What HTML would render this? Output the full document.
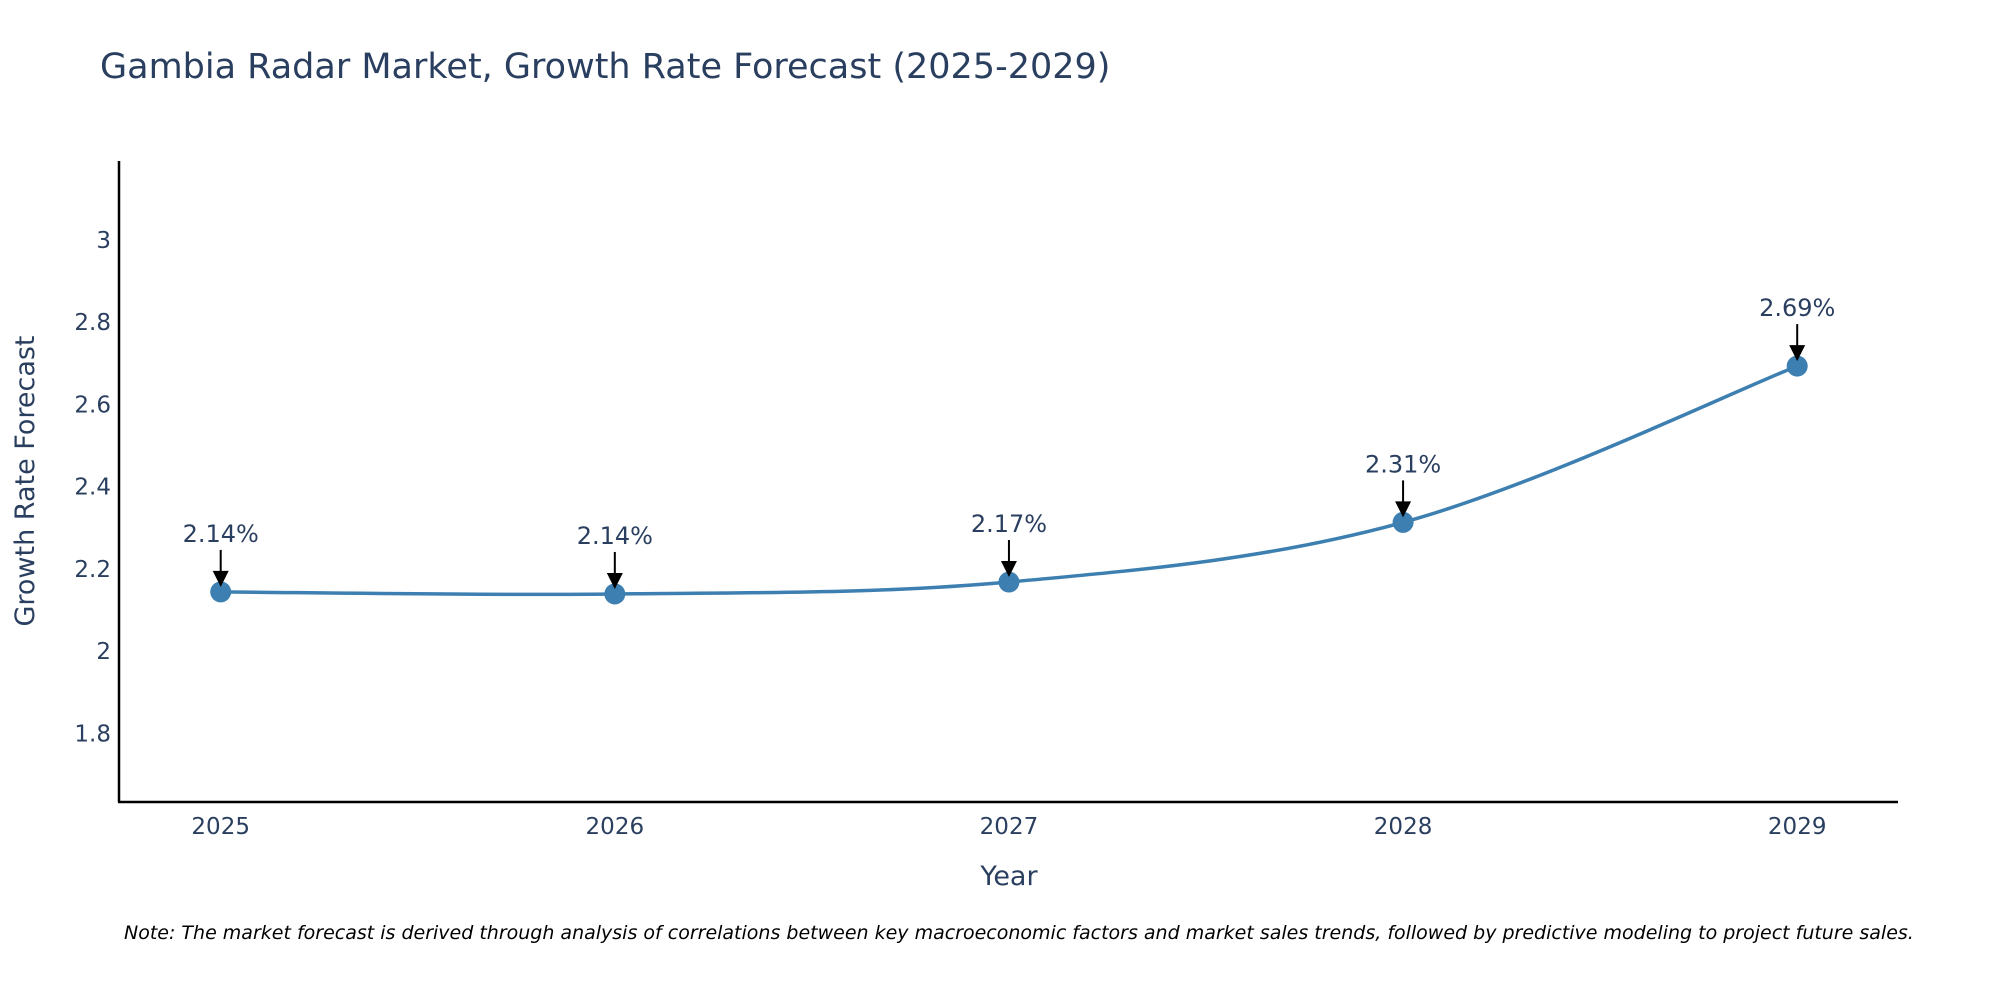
<!DOCTYPE html>
<html><head><meta charset="utf-8">
<style>
html,body{margin:0;padding:0;background:#fff;}
svg{display:block;font-family:"DejaVu Sans","Liberation Sans",sans-serif;}
</style></head>
<body>
<svg id="chart" width="2000" height="1000" viewBox="0 0 2000 1000">
<text x="100" y="78" font-size="35" fill="#2a3f5f">Gambia Radar Market, Growth Rate Forecast (2025-2029)</text>
<g id="yticks"></g>
<g id="xticks"></g>
<line x1="119" y1="161" x2="119" y2="802" stroke="#000" stroke-width="2.5"/>
<line x1="118" y1="802" x2="1898" y2="802" stroke="#000" stroke-width="2.5"/>
<text transform="translate(34,481) rotate(-90)" text-anchor="middle" font-size="27" fill="#2a3f5f">Growth Rate Forecast</text>
<text x="1009" y="885" text-anchor="middle" font-size="27" fill="#2a3f5f">Year</text>
<g id="series"></g>
<text x="124" y="939" font-size="19" font-style="italic" fill="#000">Note: The market forecast is derived through analysis of correlations between key macroeconomic factors and market sales trends, followed by predictive modeling to project future sales.</text>
</svg>
<script>
const years = [2025, 2026, 2027, 2028, 2029];
const values = [2.144, 2.139, 2.168, 2.313, 2.693];
const labels = ["2.14%", "2.14%", "2.17%", "2.31%", "2.69%"];
const yTickValues = [1.8, 2, 2.2, 2.4, 2.6, 2.8, 3];
const yTickLabels = ["1.8", "2", "2.2", "2.4", "2.6", "2.8", "3"];

const NS = "http://www.w3.org/2000/svg";
function xScale(v){ return 220.7 + (v - 2025) * (1797.2 - 220.7) / 4; }
function yScale(v){ return 239.8 + (3 - v) * (733.4 - 239.8) / 1.2; }
function mk(tag, attrs, parent){ const e = document.createElementNS(NS, tag); for (const k in attrs) e.setAttribute(k, attrs[k]); parent.appendChild(e); return e; }

const yt = document.getElementById("yticks");
yTickValues.forEach((v, i) => {
  const t = mk("text", {x: 111, y: yScale(v) + 8, "text-anchor": "end", "font-size": 23, fill: "#2a3f5f"}, yt);
  
  
  t.textContent = yTickLabels[i];
});
const xt = document.getElementById("xticks");
years.forEach(y => {
  const t = mk("text", {x: xScale(y), y: 834, "text-anchor": "middle", "font-size": 23, fill: "#2a3f5f"}, xt);
  
  
  t.textContent = String(y);
});

const g = document.getElementById("series");
const pts = years.map((y, i) => [xScale(y), yScale(values[i])]);
let d = "M" + pts[0][0] + "," + pts[0][1];
const s = 0.17;
for (let i = 0; i < pts.length - 1; i++) {
  const p0 = pts[Math.max(0, i - 1)], p1 = pts[i], p2 = pts[i + 1], p3 = pts[Math.min(pts.length - 1, i + 2)];
  const c1 = [p1[0] + (p2[0] - p0[0]) * s, p1[1] + (p2[1] - p0[1]) * s];
  const c2 = [p2[0] - (p3[0] - p1[0]) * s, p2[1] - (p3[1] - p1[1]) * s];
  d += " C" + c1 + " " + c2 + " " + p2;
}
const line = mk("path", {d: d, fill: "none", stroke: "#3d7fb0", "stroke-width": 3.5}, g);



pts.forEach((p, i) => {
  const c = mk("circle", {cx: p[0], cy: p[1], r: 10.5, fill: "#3d7fb0"}, g);
  
  
  const a = mk("line", {x1: p[0], y1: p[1] - 42, x2: p[0], y2: p[1] - 18, stroke: "#000", "stroke-width": 2}, g);
  
  
  const h = mk("path", {d: `M${p[0]-8},${p[1]-21} L${p[0]+8},${p[1]-21} L${p[0]},${p[1]-5} Z`, fill: "#000"}, g);
  
  
  const t = mk("text", {x: p[0], y: p[1] - 50, "text-anchor": "middle", "font-size": 24, fill: "#2a3f5f"}, g);
  
  
  t.textContent = labels[i];
});
</script>
</body></html>
